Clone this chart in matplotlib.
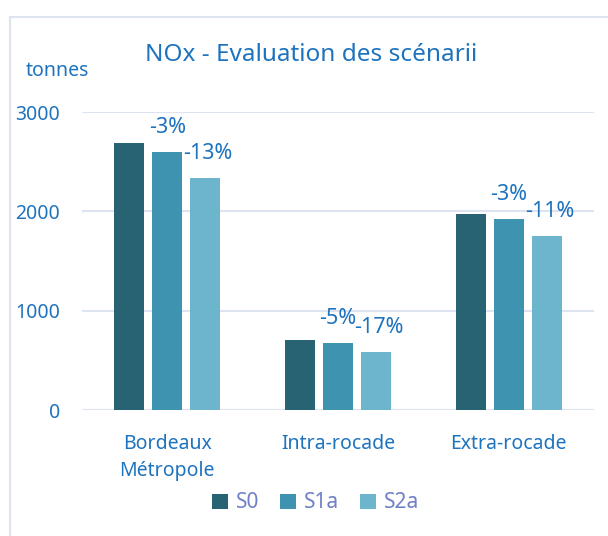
import matplotlib
matplotlib.use("Agg")
import matplotlib.pyplot as plt
from matplotlib.patches import Rectangle
import numpy as np

categories = ["Bordeaux\nMétropole", "Intra-rocade", "Extra-rocade"]
series = ["S0", "S1a", "S2a"]
s0 = [2690, 705, 1975]
s1a = [2600, 675, 1925]
s2a = [2340, 585, 1750]
labels_s1a = ["-3%", "-5%", "-3%"]
labels_s2a = ["-13%", "-17%", "-11%"]
colors = ["#286373", "#3e94b0", "#6db5cc"]
yticks = [0, 1000, 2000, 3000]

plt.rcParams['font.family'] = ['Noto Sans', 'DejaVu Sans']
blue = "#1e73be"
W, H = 608, 536
fig = plt.figure(figsize=(W/100, H/100), dpi=100)
fig.patches.append(Rectangle((10/W, -0.1), 1.0, 1.1 - 17/H, transform=fig.transFigure,
                             fill=False, edgecolor="#dde3f0", linewidth=1.5))
ax = fig.add_axes([82/W, 1 - 410/H, (594-82)/W, (410-112)/H])
x = np.arange(len(categories))
step = 0.222
width = 0.176
vals = [s0, s1a, s2a]
for i, (name, v, c) in enumerate(zip(series, vals, colors)):
    ax.bar(x + (i-1)*step, v, width, color=c, label=name, zorder=3)

for j in range(len(categories)):
    ax.annotate(labels_s1a[j], (x[j], s1a[j]), xytext=(0, 17.5), textcoords="offset points",
                ha="center", va="center", color=blue, fontsize=15.5)
    ax.annotate(labels_s2a[j], (x[j] + step, s2a[j]), xytext=(2, 17.5), textcoords="offset points",
                ha="center", va="center", color=blue, fontsize=15.5)

ax.set_xlim(-0.5, 2.5)
ax.set_ylim(0, 3000)
ax.set_yticks(yticks)
ax.set_yticklabels([str(t) for t in yticks])
ax.set_xticks(x)
ax.set_xticklabels(categories, linespacing=1.5)
ax.tick_params(axis='both', length=0, colors=blue, labelsize=14)
ax.tick_params(axis='y', pad=16)
ax.tick_params(axis='x', pad=17)
for s in ax.spines.values():
    s.set_visible(False)
ax.grid(axis='y', color="#dde3f0", linewidth=1.5, zorder=0)
ax.set_axisbelow(True)

fig.text(311/W, 1 - 55/H, "NOx - Evaluation des scénarii", ha="center", va="center",
         color=blue, fontsize=17.5)
fig.text(57/W, 1 - 71/H, "tonnes", ha="center", va="center", color=blue, fontsize=14)

leg = fig.legend(loc="center", bbox_to_anchor=(316/W, 1 - 503/H), ncol=3, frameon=False,
                 fontsize=15, handlelength=0.75, handleheight=0.75, handletextpad=0.4,
                 columnspacing=1.0)
for t in leg.get_texts():
    t.set_color("#7080c8")

fig.savefig("out.png", dpi=100)
